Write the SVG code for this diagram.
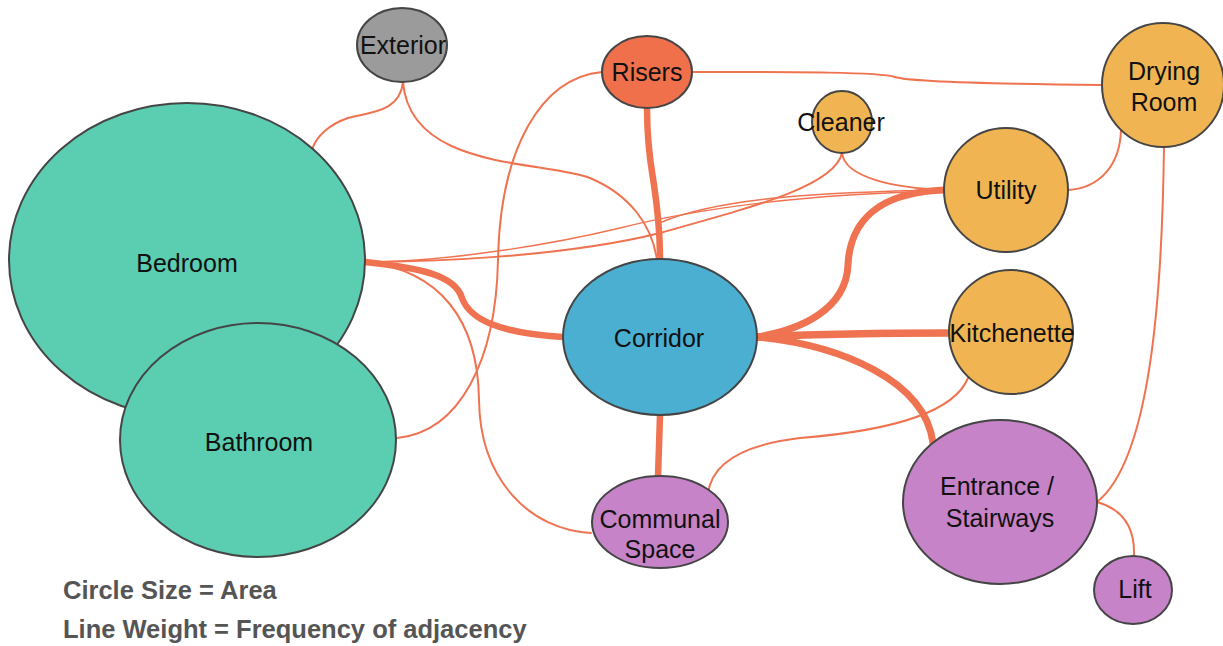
<svg xmlns="http://www.w3.org/2000/svg" width="1223" height="646" viewBox="0 0 1223 646">
<style>
.e{fill:none;stroke:#EF7350;stroke-linecap:round}
.t1{stroke-width:1.4}
.t2{stroke-width:2}
.k{stroke-width:6.5}
.n{stroke:#454545;stroke-width:2}
.lb{font-family:"Liberation Sans",Arial,sans-serif;font-size:25px;fill:#111;text-anchor:middle}
.lg{font-family:"Liberation Sans",Arial,sans-serif;font-size:25.5px;font-weight:bold;fill:#555}
.teal{fill:#5BCDB0}.blue{fill:#4AAFD1}.gray{fill:#9B9B9B}.red{fill:#F0704C}.org{fill:#F0B552}.pur{fill:#C683C8}
</style>
<rect width="1223" height="646" fill="#fff"/>
<g id="connectors">
<path class="e t2" d="M403,82 C400,112 370,112 348,118 C330,124 316,136 312,150"/>
<path class="e t2" d="M403,82 C410,170 540,160 590,178 C630,195 652,225 657,260"/>
<path class="e t2" d="M602,72 C540,78 500,150 498,260 C496,360 460,432 397,438"/>
<path class="e k" d="M647,108 C647,150 652,170 654,185 C657,205 660,230 660,259"/>
<path class="e t2" d="M693,72 C800,72 880,72 895,77 C910,82 1000,84 1102,85"/>
<path class="e t2" d="M842,153 C845,178 895,188 945,190"/>
<path class="e t2" d="M842,153 C835,185 760,205 660,233 C560,258 420,262 365,262"/>
<path class="e t1" d="M945,190 C820,192 720,198 662,222"/>
<path class="e t1" d="M945,191 C800,194 700,208 620,228 C520,252 420,262 365,262"/>
<path class="e" style="stroke-width:7" d="M945,190 C880,192 850,220 848,265 C846,310 800,330 757,337"/>
<path class="e t2" d="M1068,190 C1100,188 1120,165 1121,130"/>
<path class="e t2" d="M1164,147 C1162,300 1150,460 1097,502"/>
<path class="e t2" d="M1097,502 C1125,510 1135,530 1134,556"/>
<path class="e t2" d="M968,378 C955,410 900,430 800,438 C740,445 712,465 708,493"/>
<path class="e" style="stroke-width:7.5" d="M757,337 C820,334 860,333 949,333"/>
<path class="e" style="stroke-width:7" d="M757,337 C840,345 925,380 933,443"/>
<path class="e k" d="M660,415 L658,477"/>
<path class="e k" d="M365,262 C420,268 455,275 462,298 C470,320 500,333 563,337"/>
<path class="e t2" d="M365,262 C440,270 478,320 479,400 C480,480 530,530 591,533"/>
</g>
<g id="node-bedroom"><ellipse class="n teal" cx="187" cy="260" rx="178" ry="157"/><text class="lb" x="187" y="272">Bedroom</text></g>
<g id="node-bathroom"><ellipse class="n teal" cx="258" cy="440" rx="138" ry="117"/><text class="lb" x="259" y="451">Bathroom</text></g>
<g id="node-exterior"><ellipse class="n gray" cx="402" cy="45" rx="45" ry="37"/><text class="lb" x="403" y="54">Exterior</text></g>
<g id="node-risers"><ellipse class="n red" cx="647" cy="72" rx="45" ry="36"/><text class="lb" x="647" y="81">Risers</text></g>
<g id="node-cleaner"><ellipse class="n org" cx="842" cy="122" rx="30" ry="31"/><text class="lb" x="841" y="131">Cleaner</text></g>
<g id="node-utility"><ellipse class="n org" cx="1006" cy="190" rx="62" ry="62"/><text class="lb" x="1006" y="199">Utility</text></g>
<g id="node-drying-room"><ellipse class="n org" cx="1163" cy="85" rx="61" ry="62"/><text class="lb" x="1164" y="80">Drying</text><text class="lb" x="1164" y="111">Room</text></g>
<g id="node-corridor"><ellipse class="n blue" cx="660" cy="337" rx="97" ry="78"/><text class="lb" x="659" y="347">Corridor</text></g>
<g id="node-kitchenette"><ellipse class="n org" cx="1011" cy="332" rx="62" ry="62"/><text class="lb" x="1012" y="342">Kitchenette</text></g>
<g id="node-communal-space"><ellipse class="n pur" cx="660" cy="522" rx="68" ry="46"/><text class="lb" x="660" y="528">Communal</text><text class="lb" x="660" y="558">Space</text></g>
<g id="node-entrance"><ellipse class="n pur" cx="1000" cy="502" rx="97" ry="82"/><text class="lb" x="997" y="495">Entrance /</text><text class="lb" x="1000" y="527">Stairways</text></g>
<g id="node-lift"><ellipse class="n pur" cx="1133" cy="590" rx="39" ry="34"/><text class="lb" x="1135" y="598">Lift</text></g>
<g id="legend">
<text class="lg" x="63" y="599">Circle Size = Area</text>
<text class="lg" x="63" y="638">Line Weight = Frequency of adjacency</text>
</g>
</svg>
